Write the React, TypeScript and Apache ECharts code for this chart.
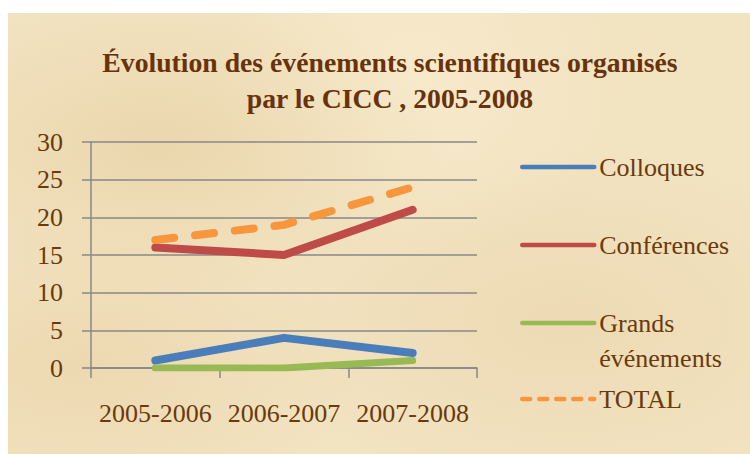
import React, { useEffect, useRef } from "react";
import * as echarts from "echarts";

const categories = ["2005-2006", "2006-2007", "2007-2008"];
const colloques = [1, 4, 2];
const conferences = [16, 15, 21];
const grands = [0, 0, 1];
const total = [17, 19, 24];
const seriesNames = ["Colloques", "Conférences", "Grands événements", "TOTAL"];
const seriesColors = ["#4a7ebb", "#be4b48", "#98b954", "#f7963c"];
const titleText = "Évolution des événements scientifiques organisés\npar le CICC , 2005-2008";

const FONT = "'Liberation Serif', 'Times New Roman', serif";
const TEXT = "#6a3a0c";

export default function App() {
  const ref = useRef<HTMLDivElement>(null);
  useEffect(() => {
    if (!ref.current) return;
    const chart = echarts.init(ref.current, undefined, { renderer: "svg" });
    const dataSets = [colloques, conferences, grands, total];
    const legendTops = [136.5, 214.5, 257.5, 368.5];
    const legends = seriesNames.map((name, i) => ({
      data: [name],
      orient: "vertical",
      left: 512,
      top: legendTops[i],
      padding: 0,
      itemWidth: 72,
      itemHeight: 14,
      formatter: (n: string) => (n === "Grands événements" ? " \nGrands\névénements" : n),
      itemStyle: { opacity: 0 },
      lineStyle: {
        width: 4.5,
        cap: "round",
        type: i === 3 ? [8, 9] : "solid",
      },
      textStyle: {
        fontFamily: FONT,
        fontSize: 26,
        lineHeight: 35,
        color: TEXT,
      },
      selectedMode: false,
    }));
    chart.setOption({
      animation: false,
      backgroundColor: "transparent",
      title: {
        text: titleText,
        left: 382,
        top: 31,
        padding: 0,
        textAlign: "center",
        textStyle: {
          fontFamily: FONT,
          fontSize: 27.7,
          fontWeight: "bold",
          lineHeight: 36,
          color: "#68330c",
        },
      },
      legend: legends,
      grid: { left: 83, top: 129, width: 386, height: 226, containLabel: false },
      xAxis: {
        type: "category",
        data: categories,
        boundaryGap: true,
        axisLine: { show: true, lineStyle: { color: "#888888", width: 1.5 } },
        axisTick: { show: true, length: 10, lineStyle: { color: "#888888", width: 1.5 } },
        axisLabel: {
          interval: 0,
          margin: 30,
          fontFamily: FONT,
          fontSize: 26,
          lineHeight: 30,
          color: TEXT,
        },
      },
      yAxis: {
        type: "value",
        min: 0,
        max: 30,
        interval: 5,
        axisLine: { show: true, lineStyle: { color: "#888888", width: 1.5 } },
        axisTick: { show: true, length: 9, lineStyle: { color: "#888888", width: 1.5 } },
        splitLine: { show: true, lineStyle: { color: "#888888", width: 1.5 } },
        axisLabel: {
          margin: 28,
          fontFamily: FONT,
          fontSize: 26,
          color: TEXT,
        },
      },
      series: seriesNames.map((name, i) => ({
        name,
        type: "line",
        data: dataSets[i],
        symbol: "none",
        showSymbol: false,
        color: seriesColors[i],
        lineStyle: {
          color: seriesColors[i],
          width: i === 2 ? 7 : 8,
          cap: "round",
          join: "round",
          type: i === 3 ? [19, 21] : "solid",
        },
      })),
    });
    return () => chart.dispose();
  }, []);
  return (
    <div
      ref={ref}
      style={{
        position: "absolute",
        left: 8,
        top: 13,
        width: 742,
        height: 441,
        background:
          "radial-gradient(ellipse at 20% 30%, rgba(226,200,150,0.45), rgba(226,200,150,0) 35%)," +
          "radial-gradient(ellipse at 75% 70%, rgba(230,205,160,0.4), rgba(230,205,160,0) 40%)," +
          "radial-gradient(ellipse at 55% 15%, rgba(250,238,210,0.6), rgba(250,238,210,0) 35%)," +
          "radial-gradient(ellipse at 10% 80%, rgba(232,206,160,0.5), rgba(232,206,160,0) 30%)," +
          "#f2e3c1",
      }}
    />
  );
}
